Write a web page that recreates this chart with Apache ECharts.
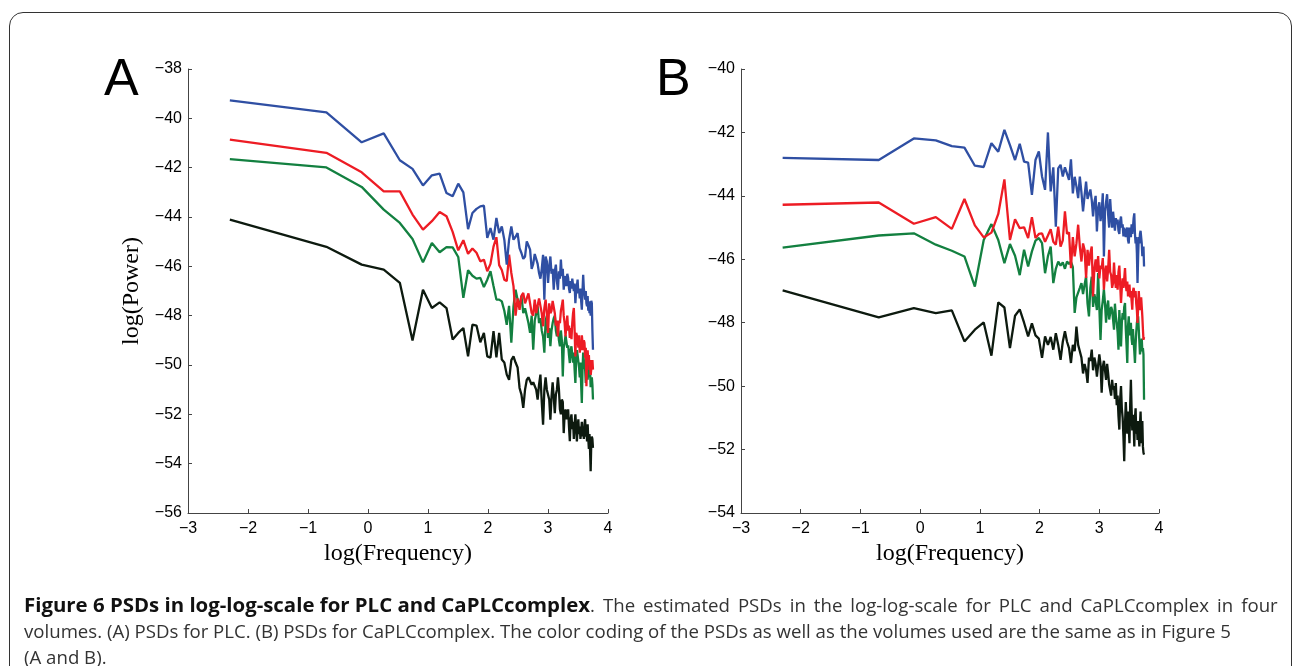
<!DOCTYPE html>
<html>
<head>
<meta charset="utf-8">
<script src="https://cdn.jsdelivr.net/npm/echarts@6/dist/echarts.min.js"></script>
<style>
  html, body { margin: 0; padding: 0; background: #fff; }
  #page { position: relative; width: 1292px; height: 666px; overflow: hidden; }
  #frame { position: absolute; left: 9px; top: 12px; width: 1283px; height: 720px;
           border: 1.5px solid #333; border-radius: 14px; box-sizing: border-box; }
  #chart { position: absolute; left: 0; top: 0; width: 1292px; height: 666px; }
  .cap { position: absolute; left: 24px; font-family: "Open Sans", sans-serif; font-size: 16px;
         white-space: nowrap; color: #333; line-height: 20px; }
  .cap b { color: #111; }
</style>
</head>
<body>
<div id="page">
  <div id="frame"></div>
  <div id="chart"></div>
  <div class="cap" id="cap1" style="top:594px"><b id="capBold">Figure 6 PSDs in log-log-scale for PLC and CaPLCcomplex</b><span id="capRest">. The estimated PSDs in the log-log-scale for PLC and CaPLCcomplex in four</span></div>
  <div class="cap" id="cap2" style="top:621px">volumes. (A) PSDs for PLC. (B) PSDs for CaPLCcomplex. The color coding of the PSDs as well as the volumes used are the same as in Figure 5</div>
  <div class="cap" id="cap3" style="top:647px">(A and B).</div>
</div>
<script>
// frequency bins (Hz); plotted as log(Frequency)
const freq = [
  0.1, 0.5, 0.9, 1.3, 1.7, 2.1, 2.5, 2.9, 3.3, 3.7,
  4.1, 4.5, 4.9, 5.3, 5.7, 6.1, 6.5, 6.9, 7.3, 7.7,
  8.1, 8.5, 8.9, 9.3, 9.7, 10.1, 10.5, 10.9, 11.3, 11.7,
  12.1, 12.5, 12.9, 13.3, 13.7, 14.1, 14.5, 14.9, 15.3, 15.7,
  16.1, 16.5, 16.9, 17.3, 17.7, 18.1, 18.5, 18.9, 19.3, 19.7,
  20.1, 20.5, 20.9, 21.3, 21.7, 22.1, 22.5, 22.9, 23.3, 23.7,
  24.1, 24.5, 24.9, 25.3, 25.7, 26.1, 26.5, 26.9, 27.3, 27.7,
  28.1, 28.5, 28.9, 29.3, 29.7, 30.1, 30.5, 30.9, 31.3, 31.7,
  32.1, 32.5, 32.9, 33.3, 33.7, 34.1, 34.5, 34.9, 35.3, 35.7,
  36.1, 36.5, 36.9, 37.3, 37.7, 38.1, 38.5, 38.9, 39.3, 39.7,
  40.1, 40.5, 40.9, 41.3, 41.7, 42.1, 42.5
];

// (A) PLC - log(Power)
const plcBlue = [
  -39.27, -39.76, -40.97, -40.61, -41.70, -42.05, -42.72, -42.31, -42.24, -43.03,
  -43.16, -42.65, -43.00, -44.49, -43.84, -43.67, -43.57, -43.54, -44.85, -44.45,
  -44.92, -44.04, -44.65, -44.38, -44.92, -45.93, -44.92, -44.38, -44.92, -44.80,
  -44.65, -45.26, -45.46, -45.70, -45.60, -44.99, -45.15, -45.32, -46.10, -45.90,
  -45.50, -45.46, -45.90, -46.27, -46.50, -46.10, -45.53, -47.35, -45.60, -45.80,
  -46.67, -46.00, -45.60, -46.30, -46.10, -46.95, -46.20, -45.93, -46.60, -46.95,
  -46.20, -46.50, -45.73, -46.40, -46.10, -46.95, -46.50, -46.40, -46.80, -46.30,
  -46.47, -46.90, -47.08, -46.60, -46.90, -46.50, -46.47, -47.00, -46.70, -47.49,
  -47.00, -46.80, -46.54, -47.10, -46.95, -47.30, -46.90, -47.40, -47.76, -47.00,
  -46.34, -46.90, -47.10, -47.35, -47.00, -47.50, -47.62, -47.20, -47.80, -47.42,
  -47.90, -47.50, -48.00, -47.40, -47.50, -48.60, -49.38
];
const plcRed = [
  -40.86, -41.40, -42.19, -42.96, -42.96, -43.90, -44.51, -44.17, -43.80, -43.97,
  -44.60, -45.35, -44.94, -45.49, -45.28, -45.45, -45.80, -45.73, -46.20, -45.90,
  -45.20, -44.82, -45.95, -46.15, -46.54, -46.60, -45.53, -46.27, -46.80, -48.00,
  -47.30, -47.76, -47.20, -47.08, -47.50, -47.30, -47.10, -47.50, -47.89, -48.00,
  -47.35, -47.90, -47.60, -47.30, -47.35, -47.90, -48.43, -47.70, -47.35, -47.90,
  -48.70, -47.50, -47.90, -47.80, -47.40, -47.35, -47.90, -48.40, -48.20, -48.84,
  -48.20, -48.30, -47.80, -47.60, -47.35, -48.00, -48.30, -48.84, -48.40, -48.00,
  -48.60, -48.40, -48.90, -48.50, -48.95, -48.30, -47.90, -47.69, -48.60, -49.65,
  -48.70, -48.80, -48.90, -49.30, -48.80, -49.50, -49.20, -49.40, -48.80, -49.10,
  -49.40, -49.00, -49.10, -49.70, -49.30, -50.86, -49.80, -49.40, -49.90, -49.60,
  -50.20, -49.80, -50.40, -50.19, -50.20, -49.80, -50.19
];
const plcGreen = [
  -41.65, -41.99, -42.78, -43.70, -44.24, -44.89, -45.84, -45.05, -45.43, -45.22,
  -45.23, -45.62, -47.28, -46.16, -46.38, -46.50, -46.47, -46.84, -46.54, -46.20,
  -46.80, -47.35, -47.35, -47.42, -47.80, -48.37, -47.60, -49.10, -47.62, -46.95,
  -47.35, -47.60, -47.20, -47.90, -47.70, -48.00, -48.30, -48.70, -48.00, -49.38,
  -48.20, -47.90, -47.62, -48.30, -48.10, -48.60, -48.84, -49.50, -48.20, -48.00,
  -48.90, -48.50, -49.24, -48.60, -48.30, -48.10, -48.00, -48.60, -48.84, -48.50,
  -49.00, -49.24, -48.60, -49.00, -50.46, -49.30, -49.10, -48.80, -48.84, -49.30,
  -49.20, -49.60, -49.92, -49.40, -49.24, -49.60, -49.90, -49.50, -50.20, -50.73,
  -49.80, -49.40, -49.60, -49.65, -50.10, -50.50, -49.90, -50.80, -51.54, -50.20,
  -49.50, -49.80, -49.80, -50.20, -50.73, -50.30, -49.90, -50.60, -50.00, -50.40,
  -50.50, -50.20, -50.90, -50.60, -50.50, -50.80, -51.40
];
const plcBlack = [
  -44.11, -45.21, -45.93, -46.13, -46.67, -49.01, -46.95, -47.69, -47.46, -47.69,
  -48.97, -48.70, -48.50, -49.65, -48.36, -48.40, -49.08, -48.70, -49.65, -49.70,
  -48.63, -49.69, -48.70, -49.78, -49.90, -50.39, -50.60, -49.80, -49.65, -49.90,
  -50.10, -50.93, -51.20, -51.74, -51.00, -50.60, -50.50, -50.65, -50.80, -50.70,
  -50.65, -51.00, -51.40, -50.80, -50.39, -51.50, -52.42, -51.00, -50.50, -51.00,
  -51.00, -51.40, -52.22, -51.30, -50.70, -51.30, -51.95, -51.20, -51.00, -50.50,
  -51.00, -51.80, -52.00, -51.40, -51.50, -52.76, -52.00, -51.80, -52.20, -52.00,
  -51.80, -52.50, -53.09, -52.20, -52.00, -52.60, -52.30, -53.00, -52.40, -52.00,
  -52.50, -53.10, -52.60, -52.20, -52.80, -52.50, -53.00, -52.70, -52.30, -52.90,
  -52.50, -53.00, -52.40, -52.20, -52.90, -52.60, -53.10, -52.40, -53.00, -53.40,
  -52.80, -53.50, -54.31, -53.20, -52.90, -53.00, -53.36
];

// (B) CaPLCcomplex - log(Power)
const cplxBlue = [
  -42.80, -42.87, -42.19, -42.25, -42.43, -42.48, -43.05, -43.09, -42.34, -42.61,
  -41.92, -42.40, -42.87, -42.36, -42.92, -42.95, -43.97, -42.87, -42.60, -43.39,
  -43.81, -42.00, -43.86, -43.10, -44.97, -43.13, -43.02, -43.39, -43.10, -43.30,
  -43.50, -42.85, -43.92, -43.40, -43.70, -44.07, -43.39, -43.90, -44.49, -44.00,
  -43.55, -44.10, -44.15, -43.80, -44.13, -44.65, -44.20, -44.00, -45.12, -44.40,
  -44.20, -44.80, -44.50, -43.92, -45.91, -44.50, -44.20, -43.95, -44.60, -45.00,
  -44.10, -44.60, -45.00, -44.50, -44.55, -45.10, -44.70, -44.90, -44.75, -45.10,
  -45.20, -44.80, -44.65, -45.00, -44.90, -45.28, -45.00, -44.95, -45.30, -45.10,
  -45.00, -45.40, -45.50, -45.00, -45.10, -45.30, -44.90, -45.20, -45.00, -44.70,
  -44.55, -45.20, -45.50, -45.30, -45.80, -46.75, -45.90, -45.30, -45.50, -45.20,
  -45.10, -45.07, -45.50, -45.90, -45.70, -45.60, -46.23
];
const cplxRed = [
  -44.28, -44.21, -44.88, -44.67, -45.04, -44.10, -44.93, -45.31, -45.16, -44.57,
  -43.48, -45.39, -44.74, -45.02, -44.99, -45.33, -44.67, -45.33, -45.20, -45.18,
  -45.45, -45.25, -45.05, -45.45, -45.54, -44.97, -45.60, -45.40, -44.49, -45.20,
  -45.15, -46.28, -45.30, -45.91, -45.50, -44.91, -45.60, -46.07, -45.50, -45.70,
  -46.59, -45.70, -46.20, -45.80, -45.60, -47.17, -46.30, -46.00, -46.40, -45.90,
  -46.60, -46.20, -46.30, -45.96, -46.96, -46.40, -46.20, -46.70, -46.30, -45.70,
  -46.40, -46.50, -46.90, -46.75, -46.10, -46.60, -46.90, -46.50, -46.96, -46.40,
  -46.20, -46.80, -47.38, -46.90, -46.60, -46.90, -46.60, -46.28, -46.80, -47.00,
  -46.70, -47.17, -46.90, -46.80, -47.20, -47.00, -47.30, -47.59, -47.00, -46.90,
  -46.85, -47.20, -47.00, -47.40, -47.60, -48.01, -47.50, -47.00, -47.30, -47.60,
  -47.40, -47.20, -47.50, -47.80, -48.20, -48.54, -48.45
];
const cplxGreen = [
  -45.63, -45.25, -45.18, -45.54, -45.73, -45.91, -46.86, -45.39, -44.89, -45.39,
  -46.12, -45.52, -45.89, -46.50, -45.70, -46.23, -45.75, -45.41, -45.33, -45.49,
  -46.44, -45.90, -45.60, -46.75, -46.30, -46.07, -46.20, -46.10, -46.30, -46.07,
  -46.15, -46.07, -46.25, -47.69, -47.20, -47.20, -46.90, -46.75, -47.10, -46.80,
  -46.54, -47.40, -47.80, -46.90, -46.55, -47.50, -47.10, -47.30, -47.60, -46.43,
  -47.50, -48.54, -47.60, -47.30, -46.95, -47.40, -48.00, -47.50, -47.30, -47.90,
  -47.90, -47.50, -47.60, -47.90, -48.22, -47.40, -47.80, -48.00, -48.30, -48.85,
  -47.60, -48.20, -48.75, -48.00, -47.70, -47.90, -47.50, -47.38, -48.20, -48.70,
  -49.27, -48.10, -47.80, -48.40, -48.10, -48.00, -48.50, -48.70, -48.20, -48.60,
  -48.90, -49.27, -48.70, -48.30, -48.00, -47.90, -47.80, -48.20, -48.60, -49.00,
  -49.00, -48.70, -48.50, -48.90, -48.80, -49.00, -50.43
];
const cplxBlack = [
  -46.98, -47.83, -47.54, -47.70, -47.61, -48.59, -48.22, -47.99, -49.04, -47.36,
  -47.52, -48.80, -47.78, -47.58, -48.00, -48.43, -48.02, -48.40, -48.50, -49.11,
  -48.43, -48.70, -48.45, -48.85, -48.33, -48.70, -49.17, -48.60, -48.27, -48.60,
  -48.80, -49.27, -48.70, -48.90, -48.12, -48.70, -48.90, -49.10, -49.60, -49.30,
  -49.50, -49.90, -49.10, -49.20, -48.85, -49.50, -49.10, -49.30, -49.70, -49.69,
  -49.00, -49.30, -50.21, -49.40, -49.20, -49.50, -49.80, -49.30, -49.60, -49.95,
  -49.90, -50.30, -49.80, -50.10, -50.00, -50.40, -49.90, -50.60, -50.30, -50.95,
  -51.37, -50.40, -50.00, -50.70, -51.00, -51.60, -52.37, -51.20, -50.50, -51.00,
  -51.50, -50.80, -51.30, -51.80, -50.60, -49.80, -50.70, -51.40, -50.90, -51.20,
  -51.90, -51.00, -50.70, -51.50, -51.20, -51.70, -51.10, -51.60, -51.90, -51.20,
  -50.80, -51.50, -51.80, -51.10, -51.90, -52.10, -52.16
];

const yTicksA = { min: -56, max: -38, interval: 2 };
const yTicksB = { min: -54, max: -40, interval: 2 };
const xTicks = { min: -3, max: 4, interval: 1 };

const colors = { blue: '#2f4fa3', red: '#ed1c24', green: '#138040', black: '#0d1a0f' };

const chart = echarts.init(document.getElementById('chart'), null, { renderer: 'canvas' });

const minusFmt = (v) => String(v).replace('-', '\u2212');
const axisColor = '#444';

function makeX(gridIndex) {
  return {
    type: 'value', gridIndex: gridIndex,
    min: xTicks.min, max: xTicks.max, interval: xTicks.interval,
    name: 'log(Frequency)', nameLocation: 'middle', nameGap: 27,
    nameTextStyle: { fontFamily: 'Liberation Serif', fontSize: 24, color: '#000' },
    axisLine: { onZero: false, lineStyle: { color: axisColor, width: 1 } },
    axisTick: { inside: true, length: 4, lineStyle: { color: axisColor } },
    axisLabel: { formatter: minusFmt, fontFamily: 'Liberation Sans', fontSize: 16, color: '#000', margin: 8 },
    splitLine: { show: false }
  };
}
function makeY(gridIndex, ticks, name) {
  return {
    type: 'value', gridIndex: gridIndex,
    min: ticks.min, max: ticks.max, interval: ticks.interval,
    name: name, nameLocation: 'middle', nameGap: 44, nameRotate: 90,
    nameTextStyle: { fontFamily: 'Liberation Serif', fontSize: 24, color: '#000' },
    axisLine: { onZero: false, lineStyle: { color: axisColor, width: 1 } },
    axisTick: { inside: true, length: 4, lineStyle: { color: axisColor } },
    axisLabel: { formatter: minusFmt, fontFamily: 'Liberation Sans', fontSize: 16, color: '#000', margin: 6 },
    splitLine: { show: false }
  };
}
function makeLine(idx, values, color) {
  return {
    type: 'line', xAxisIndex: idx, yAxisIndex: idx,
    data: values.map((v, i) => [Math.log(freq[i]), v]),
    showSymbol: false, symbol: 'none',
    lineStyle: { color: color, width: 2.3 },
    itemStyle: { color: color },
    animation: false
  };
}

chart.setOption({
  animation: false,
  grid: [
    { left: 188, top: 69, width: 420, height: 444 },
    { left: 741, top: 69, width: 418, height: 444 }
  ],
  xAxis: [makeX(0), makeX(1)],
  yAxis: [makeY(0, yTicksA, 'log(Power)'), makeY(1, yTicksB, '')],
  graphic: [
    { type: 'text', left: 104, top: 55, style: { text: 'A', font: '52px "Liberation Sans"', fill: '#000' } },
    { type: 'text', left: 656, top: 55, style: { text: 'B', font: '52px "Liberation Sans"', fill: '#000' } }
  ],
  series: [
    makeLine(0, plcBlack, colors.black),
    makeLine(0, plcGreen, colors.green),
    makeLine(0, plcRed, colors.red),
    makeLine(0, plcBlue, colors.blue),
    makeLine(1, cplxBlack, colors.black),
    makeLine(1, cplxGreen, colors.green),
    makeLine(1, cplxRed, colors.red),
    makeLine(1, cplxBlue, colors.blue)
  ]
});

// size the caption so the line widths match the figure:
// the regular text from the second line, the bold title from its own span
const cap2 = document.getElementById('cap2');
const regularSize = 16 * 1208 / cap2.scrollWidth;
document.querySelectorAll('.cap').forEach((el) => { el.style.fontSize = regularSize.toFixed(2) + 'px'; });
const capBold = document.getElementById('capBold');
const boldSize = regularSize * 566 / capBold.getBoundingClientRect().width;
capBold.style.fontSize = boldSize.toFixed(2) + 'px';
// the first line is justified to the full width in the figure
const cap1 = document.getElementById('cap1');
const capRest = document.getElementById('capRest');
const gaps = capRest.textContent.split(' ').length - 1;
const extra = (1254 - cap1.scrollWidth) / gaps;
if (extra > 0) capRest.style.wordSpacing = extra.toFixed(2) + 'px';
</script>
</body>
</html>
